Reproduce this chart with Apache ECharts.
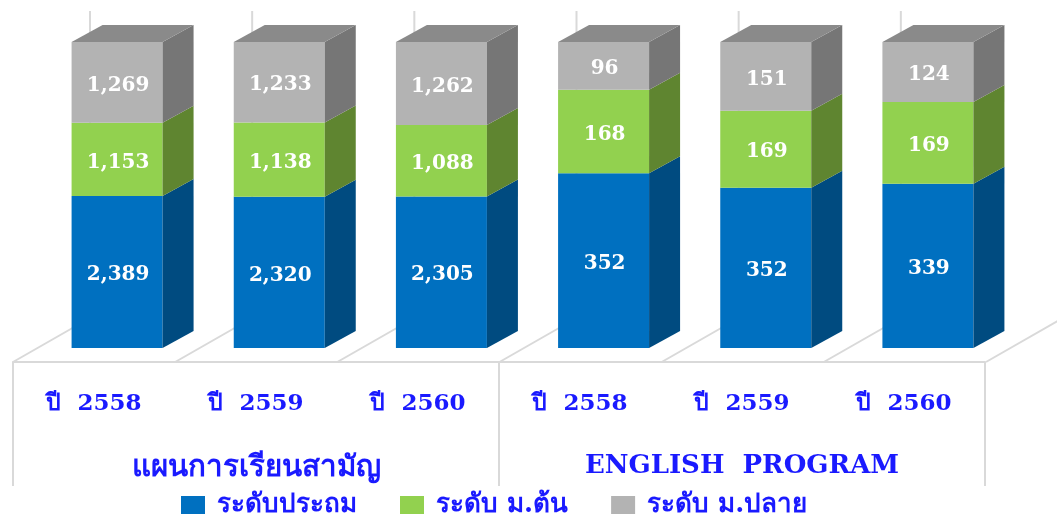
<!DOCTYPE html>
<html>
<head>
<meta charset="utf-8">
<style>html,body{margin:0;padding:0;background:#fff}#c{width:1057px;height:515px}</style>
<script src="https://cdn.jsdelivr.net/npm/echarts@6/dist/echarts.min.js"></script>
</head>
<body>
<div id="c"></div>
<script>
const yearLabels = ['ปี  2558','ปี  2559','ปี  2560','ปี  2558','ปี  2559','ปี  2560'];
const programLabels = ['แผนการเรียนสามัญ','ENGLISH  PROGRAM'];
const seriesNames = ['ระดับประถม','ระดับ ม.ต้น','ระดับ ม.ปลาย'];
const primary = [2389,2320,2305,352,352,339];
const lowerSecondary = [1153,1138,1088,168,169,169];
const upperSecondary = [1269,1233,1262,96,151,124];

const levels = [primary, lowerSecondary, upperSecondary];
const frontColors = ['#0070c0','#92d14f','#b3b3b3'];
const sideColors = ['#004b80','#5f8530','#767676'];
const topColor = '#8a8a8a';
const gridLine = '#d9d9d9';
const DX = 31, DY = 17, BAR = 91;
const serif = '"DejaVu Serif","Noto Sans",serif';

function fmt(n){return n.toLocaleString('en-US');}

function renderBar(level){
  return function(params, api){
    const i = api.value(0), lo = api.value(1), hi = api.value(2), v = api.value(3);
    const c0 = api.coord([i, lo]), c1 = api.coord([i, hi]);
    const x0 = c0[0] - BAR / 2, x1 = c0[0] + BAR / 2, yb = c0[1], yt = c1[1];
    const kids = [
      {type:'rect', shape:{x:x0, y:yt, width:BAR, height:yb-yt}, style:{fill:frontColors[level]}},
      {type:'polygon', shape:{points:[[x1,yb],[x1+DX,yb-DY],[x1+DX,yt-DY],[x1,yt]]}, style:{fill:sideColors[level]}}
    ];
    if(level === levels.length - 1){
      kids.push({type:'polygon', shape:{points:[[x0,yt],[x1,yt],[x1+DX,yt-DY],[x0+DX,yt-DY]]}, style:{fill:topColor}});
    }
    kids.push({type:'text', style:{x:c0[0]+1, y:(yb+yt)/2+3, text:fmt(v), fill:'#fff',
      font:'bold 20px '+serif, align:'center', verticalAlign:'middle'}});
    return {type:'group', children:kids};
  };
}

function renderFloor(params, api){
  const i = api.value(0);
  const c = api.coord([i,0]), top = api.coord([i,1]);
  const band = api.size([1,0])[0];
  const kids = [];
  const add = function(k){
    const x = c[0] - band/2 - 23 + k*band, y = c[1] + 14;
    kids.push({type:'line', shape:{x1:x, y1:y, x2:x+77, y2:y-44}, style:{stroke:gridLine, lineWidth:2}});
    kids.push({type:'line', shape:{x1:x+77, y1:y-44, x2:x+77, y2:top[1]-31}, style:{stroke:gridLine, lineWidth:2}});
  };
  add(0);
  if(i === yearLabels.length - 1) add(1);
  return {type:'group', children:kids};
}

const barSeries = levels.map(function(arr, level){
  const data = arr.map(function(v, i){
    const total = levels.reduce(function(s,a){return s+a[i];},0);
    const below = levels.slice(0,level).reduce(function(s,a){return s+a[i];},0);
    return [i, below/total, (below+v)/total, v];
  });
  return {
    name: seriesNames[level], type:'custom', xAxisIndex:0, yAxisIndex:0, z:3,
    itemStyle:{color:frontColors[level]},
    encode:{x:0, y:[1,2]}, data:data, renderItem:renderBar(level), silent:true
  };
});

const floorSeries = {
  type:'custom', xAxisIndex:0, yAxisIndex:0, z:1, silent:true,
  encode:{x:0}, data:yearLabels.map(function(_,i){return [i];}), renderItem:renderFloor
};

const chart = echarts.init(document.getElementById('c'), null, {renderer:'canvas'});
chart.setOption({
  animation:false,
  backgroundColor:'#fff',
  tooltip:{show:false},
  grid:[
    {left:36, width:973, top:42, height:306},
    {left:13, width:972, top:361, height:1}
  ],
  xAxis:[
    {type:'category', gridIndex:0, show:false, data:yearLabels.map(function(s,i){return i+':'+s;})},
    {type:'category', gridIndex:1, position:'bottom', data:yearLabels,
     axisLine:{show:true, lineStyle:{color:gridLine, width:2}}, axisTick:{show:false},
     axisLabel:{interval:0, margin:31, color:'#1a1aff', fontWeight:'bold', fontSize:23, fontFamily:serif}},
    {type:'category', gridIndex:1, position:'bottom', data:programLabels,
     axisLine:{show:false},
     axisTick:{show:true, length:124, lineStyle:{color:gridLine, width:2}},
     axisLabel:{interval:0, margin:91, color:'#1a1aff', fontWeight:'bold', fontSize:24, fontFamily:serif,
       formatter:function(v,i){return i===0 ? '{th|'+v+'}' : '{en|'+v+'}';},
       rich:{
         th:{fontSize:29.5, fontWeight:'bold', color:'#1a1aff', fontFamily:serif},
         en:{fontSize:26, fontWeight:'bold', color:'#1a1aff', fontFamily:serif}
       }}}
  ],
  yAxis:[
    {type:'value', gridIndex:0, show:false, min:0, max:1},
    {type:'value', gridIndex:1, show:false, min:0, max:1}
  ],
  legend:{
    show:true, top:487, left:176, itemWidth:24, itemHeight:18, itemGap:43, icon:'rect',
    data:seriesNames, selectedMode:false,
    textStyle:{color:'#1a1aff', fontWeight:'bold', fontSize:26, fontFamily:serif, padding:[0,0,4,7]}
  },
  series:[floorSeries].concat(barSeries)
});
</script>
</body>
</html>
